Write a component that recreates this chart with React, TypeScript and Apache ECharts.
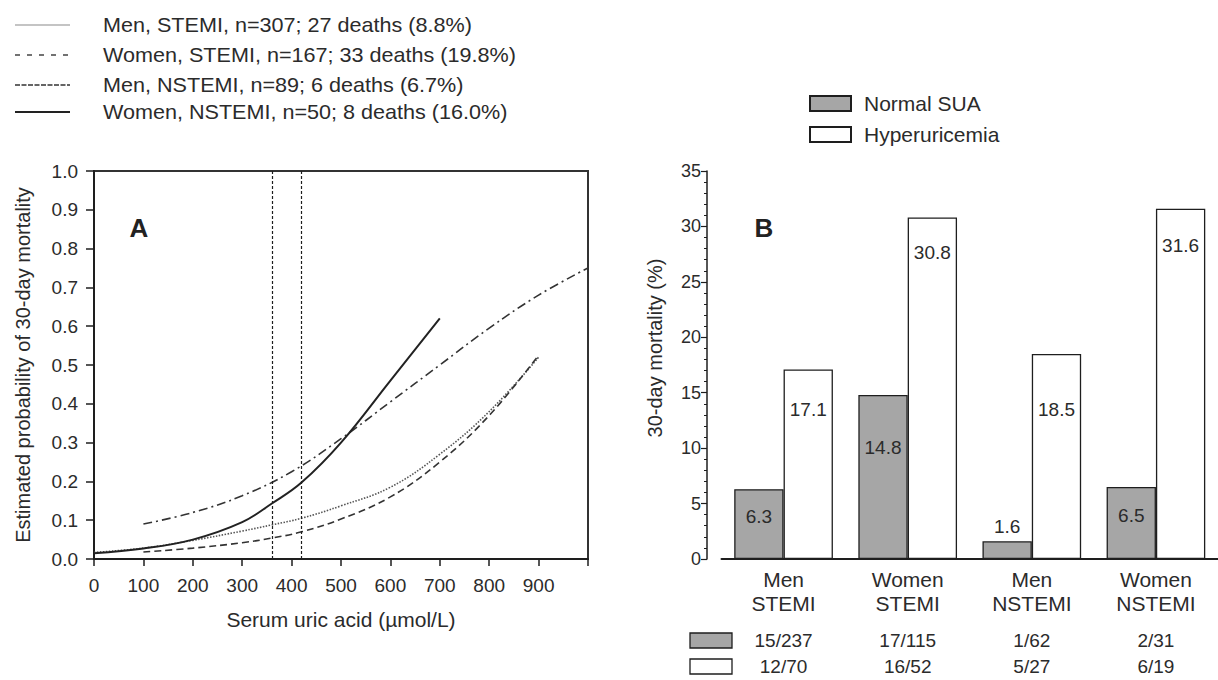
import React, { useEffect, useRef } from "react";
import * as echarts from "echarts";

// ---- Panel A data: estimated probability of 30-day mortality vs serum uric acid ----
const menStemi = [[0, 0.017], [100, 0.028], [200, 0.048], [300, 0.072], [360, 0.088], [420, 0.105], [500, 0.137], [600, 0.185], [700, 0.27], [800, 0.38], [900, 0.52]];
const womenStemi = [[100, 0.018], [200, 0.028], [300, 0.042], [360, 0.054], [420, 0.07], [500, 0.103], [600, 0.16], [700, 0.25], [800, 0.37], [900, 0.525]];
const menNstemi = [[100, 0.09], [200, 0.12], [300, 0.163], [400, 0.225], [500, 0.31], [600, 0.405], [700, 0.5], [800, 0.595], [900, 0.68], [1000, 0.75]];
const womenNstemi = [[0, 0.015], [100, 0.027], [200, 0.05], [300, 0.095], [360, 0.143], [420, 0.197], [500, 0.3], [600, 0.46], [700, 0.62]];
const cutoffs = [360, 420];
const legendA = [
  "Men, STEMI, n=307; 27 deaths (8.8%)",
  "Women, STEMI, n=167; 33 deaths (19.8%)",
  "Men, NSTEMI, n=89; 6 deaths (6.7%)",
  "Women, NSTEMI, n=50; 8 deaths (16.0%)",
];

// ---- Panel B data ----
const categories = ["Men\nSTEMI", "Women\nSTEMI", "Men\nNSTEMI", "Women\nNSTEMI"];
const normalSUA = [6.3, 14.8, 1.6, 6.5];
const hyperuricemia = [17.1, 30.8, 18.5, 31.6];
const normalCounts = ["15/237", "17/115", "1/62", "2/31"];
const hyperCounts = ["12/70", "16/52", "5/27", "6/19"];

// label placement (style only)
const normalLabelDist = [18, 43, -5, 19];
const hyperLabelDist = [31, 25, 46, 27];

const FONT = "Liberation Sans, Arial, Helvetica, sans-serif";
const TXT = "#2b2b2b";
const INK = "#1e1e1e";
const GREY = "#a6a6a6";

export default function App() {
  const ref = useRef<HTMLDivElement>(null);
  useEffect(() => {
    document.body.style.margin = "0";
    const chart = echarts.init(ref.current!, null, { renderer: "svg" });

    const legendStyles: any[] = [
      { stroke: "#8a8a8a", lineWidth: 1.2 },
      { stroke: "#444", lineWidth: 1.5, lineDash: [5, 7] },
      { stroke: "#333", lineWidth: 1.5, lineDash: [5, 1.5] },
      { stroke: "#222", lineWidth: 2 },
    ];
    const legendYs = [25, 55, 85, 112];
    const legendGraphics: any[] = [];
    legendA.forEach((t, i) => {
      legendGraphics.push({
        type: "line",
        shape: { x1: 15, y1: legendYs[i], x2: 70, y2: legendYs[i] },
        style: legendStyles[i],
      });
      legendGraphics.push({
        type: "text",
        x: 103,
        y: legendYs[i],
        scaleX: 1.08,
        style: { text: t, font: `20px ${FONT}`, fill: TXT, textVerticalAlign: "middle" },
      });
    });

    const barLabel = (dist: number) =>
      dist < 0
        ? { show: true, position: "top", distance: -dist, fontSize: 19, color: TXT, fontFamily: FONT }
        : { show: true, position: "insideTop", distance: dist, fontSize: 19, color: TXT, fontFamily: FONT };

    const option: any = {
      animation: false,
      backgroundColor: "#fff",
      textStyle: { fontFamily: FONT, color: TXT },
      grid: [
        { left: 94, top: 171, width: 494, height: 388, show: true, borderColor: "#333", borderWidth: 2, backgroundColor: "transparent" },
        { left: 721.5, top: 171, width: 508, height: 388 },
      ],
      legend: {
        data: ["Normal SUA", "Hyperuricemia"],
        orient: "vertical",
        left: 809,
        top: 93,
        padding: 0,
        itemWidth: 41,
        itemHeight: 15,
        itemGap: 10,
        icon: "rect",
        textStyle: { fontSize: 21, color: TXT, fontFamily: FONT, padding: [0, 0, 0, 8] },
      },
      xAxis: [
        {
          gridIndex: 0,
          type: "value",
          min: 0,
          max: 1000,
          interval: 100,
          name: "Serum uric acid (µmol/L)",
          nameLocation: "middle",
          nameGap: 50,
          nameTextStyle: { fontSize: 21, color: TXT, fontFamily: FONT },
          axisLine: { lineStyle: { color: INK, width: 2 } },
          axisTick: { show: true, length: 7, lineStyle: { color: INK, width: 1.5 } },
          axisLabel: { fontSize: 19, color: TXT, margin: 17, formatter: (v: number) => (v >= 1000 ? "" : String(v)) },
          splitLine: { show: false },
        },
        {
          gridIndex: 1,
          type: "category",
          data: categories,
          axisLine: { lineStyle: { color: INK, width: 2 } },
          axisTick: { show: false },
          axisLabel: { fontSize: 21, color: TXT, lineHeight: 24, margin: 8, interval: 0 },
        },
        {
          gridIndex: 1,
          type: "category",
          position: "bottom",
          offset: 60,
          data: categories.map((_, i) => `${normalCounts[i]}\n${hyperCounts[i]}`),
          axisLine: { show: false },
          axisTick: { show: false },
          axisLabel: { fontSize: 19, color: TXT, lineHeight: 26, margin: 8, interval: 0 },
        },
      ],
      yAxis: [
        {
          gridIndex: 0,
          type: "value",
          min: 0,
          max: 1,
          interval: 0.1,
          name: "Estimated probability of 30-day mortality",
          nameLocation: "middle",
          nameGap: 61,
          nameTextStyle: { fontSize: 20, color: TXT, fontFamily: FONT },
          axisLine: { show: true, lineStyle: { color: INK, width: 2 } },
          axisTick: { show: true, length: 8, lineStyle: { color: INK, width: 1.5 } },
          axisLabel: { fontSize: 19, color: TXT, margin: 16, formatter: (v: number) => v.toFixed(1) },
          splitLine: { show: false },
        },
        {
          gridIndex: 1,
          type: "value",
          min: 0,
          max: 35,
          interval: 5,
          offset: 14.5,
          name: "30-day mortality (%)",
          nameLocation: "middle",
          nameGap: 42,
          nameTextStyle: { fontSize: 20, color: TXT, fontFamily: FONT, padding: [0, 0, 0, 34] },
          axisLine: { show: true, lineStyle: { color: INK, width: 1.5 } },
          axisTick: { show: true, length: 6, lineStyle: { color: INK, width: 1.2 } },
          minorTick: { show: true, splitNumber: 5, length: 3, lineStyle: { color: INK, width: 1 } },
          axisLabel: { fontSize: 18, color: TXT, margin: 6 },
          splitLine: { show: false },
        },
      ],
      series: [
        {
          name: legendA[0],
          type: "line",
          xAxisIndex: 0,
          yAxisIndex: 0,
          data: menStemi,
          smooth: 0.4,
          showSymbol: false,
          lineStyle: { color: "#555", width: 1.6, type: [1.5, 1.5] },
          markLine: {
            silent: true,
            symbol: "none",
            label: { show: false },
            lineStyle: { color: INK, width: 1.2, type: [3, 2] },
            data: cutoffs.map((c) => ({ xAxis: c })),
          },
        },
        {
          name: legendA[1],
          type: "line",
          xAxisIndex: 0,
          yAxisIndex: 0,
          data: womenStemi,
          smooth: 0.4,
          showSymbol: false,
          lineStyle: { color: "#333", width: 1.6, type: [7, 4] },
        },
        {
          name: legendA[2],
          type: "line",
          xAxisIndex: 0,
          yAxisIndex: 0,
          data: menNstemi,
          smooth: 0.4,
          showSymbol: false,
          lineStyle: { color: "#333", width: 1.6, type: [9, 4, 2, 4] },
        },
        {
          name: legendA[3],
          type: "line",
          xAxisIndex: 0,
          yAxisIndex: 0,
          data: womenNstemi,
          smooth: 0.4,
          showSymbol: false,
          lineStyle: { color: "#222", width: 2 },
        },
        {
          name: "Normal SUA",
          type: "bar",
          xAxisIndex: 1,
          yAxisIndex: 1,
          barGap: "0%",
          barCategoryGap: "20.5%",
          itemStyle: { color: GREY, borderColor: INK, borderWidth: 1.3 },
          data: normalSUA.map((v, i) => ({ value: v, label: barLabel(normalLabelDist[i]) })),
        },
        {
          name: "Hyperuricemia",
          type: "bar",
          xAxisIndex: 1,
          yAxisIndex: 1,
          barGap: "0%",
          barCategoryGap: "20.5%",
          itemStyle: { color: "#fff", borderColor: INK, borderWidth: 1.3 },
          data: hyperuricemia.map((v, i) => ({ value: v, label: barLabel(hyperLabelDist[i]) })),
        },
      ],
      graphic: [
        ...legendGraphics,
        { type: "text", x: 139, y: 228, style: { text: "A", font: `bold 26px ${FONT}`, fill: "#222", textAlign: "center", textVerticalAlign: "middle" } },
        { type: "text", x: 764, y: 228, style: { text: "B", font: `bold 26px ${FONT}`, fill: "#222", textAlign: "center", textVerticalAlign: "middle" } },
        { type: "rect", shape: { x: 690, y: 633, width: 42, height: 15 }, style: { fill: GREY, stroke: INK, lineWidth: 1.3 } },
        { type: "rect", shape: { x: 690, y: 659, width: 42, height: 15 }, style: { fill: "#fff", stroke: INK, lineWidth: 1.3 } },
      ],
    };

    chart.setOption(option);
    return () => chart.dispose();
  }, []);
  return <div ref={ref} style={{ width: 1218, height: 680 }} />;
}
